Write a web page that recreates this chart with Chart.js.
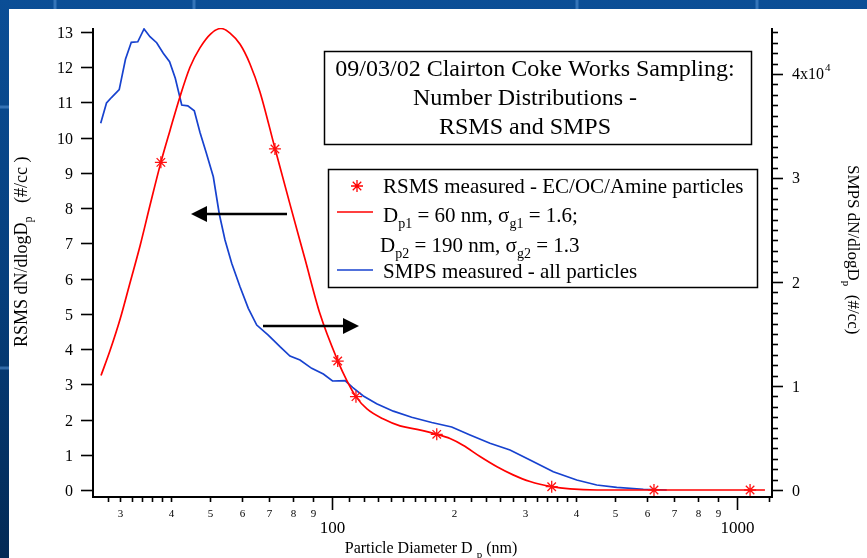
<!DOCTYPE html>
<html>
<head>
<meta charset="utf-8">
<script src="https://cdn.jsdelivr.net/npm/chart.js@4.4.1/dist/chart.umd.min.js"></script>
<style>
  html, body { margin: 0; padding: 0; background: #ffffff; overflow: hidden; }
  canvas { display: block; }
</style>
</head>
<body>
<canvas id="chart" width="867" height="558"></canvas>
<script>
// RSMS bimodal lognormal fit (left axis, #/cc)
const fitDiameter = [26.9, 28.3, 30.0, 31.7, 33.6, 35.5, 37.8, 39.8, 42.1, 44.6, 47.2, 50.2, 53.2, 56.0, 59.3, 62.7, 66.4, 72.3, 78.8, 85.8, 93.4, 103.4, 108.9, 114.6, 122.0, 133.6, 147.2, 162.2, 181.4, 195.6, 210.6, 232, 255.5, 280, 308.3, 348.7, 387, 451, 623.7, 1172];
const fitDnDlogDp = [3.25, 3.95, 4.86, 5.87, 6.94, 8.06, 9.30, 10.2, 11.15, 12.0, 12.55, 12.95, 13.1, 12.97, 12.65, 12.1, 11.3, 9.7, 8.1, 6.55, 5.0, 3.66, 3.1, 2.65, 2.3, 2.02, 1.82, 1.72, 1.58, 1.46, 1.27, 0.95, 0.66, 0.43, 0.24, 0.094, 0.03, 0, 0, 0];

// RSMS measured EC/OC/Amine particles (left axis, #/cc)
const rsmsDiameter = [37.8, 72.3, 103.3, 114.6, 181.4, 348.7, 623.7, 1077];
const rsmsDnDlogDp = [9.30, 9.68, 3.66, 2.65, 1.58, 0.094, 0, 0];

// SMPS measured, all particles (right axis, #/cc)
const smpsDiameter = [26.85, 27.75, 28.58, 29.83, 30.91, 31.95, 33.15, 34.35, 35.53, 36.91, 38.32, 39.72, 41.03, 42.56, 44.06, 45.71, 47.22, 48.86, 50.93, 52.69, 54.43, 56.54, 59.28, 62.14, 65.19, 69.6, 74.4, 78.75, 83.37, 89.1, 95.2, 100.3, 107.7, 112.4, 119.5, 128.9, 141.7, 157.3, 176.3, 197.5, 219.2, 245.5, 275.1, 308.3, 351.9, 402, 450.4, 504.7, 587.1, 670.7];
const smpsDnDlogDp = [35260, 37210, 37760, 38490, 41420, 43050, 43100, 44330, 43590, 43010, 41990, 41180, 39590, 37020, 36940, 36470, 34370, 32500, 30120, 26540, 24040, 21800, 19550, 17470, 15860, 14900, 13780, 12880, 12500, 11700, 11150, 10480, 10510, 9860, 9040, 8300, 7580, 6990, 6490, 6060, 5290, 4490, 3850, 2880, 1760, 960, 480, 260, 70, 0];

// Axis ticks
const xTickValues = [28, 30, 32, 34, 36, 38, 40, 50, 60, 70, 80, 90, 100, 110, 120, 130, 140, 150, 160, 170, 180, 190, 200, 220, 240, 260, 280, 300, 320, 340, 360, 380, 400, 500, 600, 700, 800, 900, 1000, 1200];
const xMinorLabels = { 30: '3', 40: '4', 50: '5', 60: '6', 70: '7', 80: '8', 90: '9', 200: '2', 300: '3', 400: '4', 500: '5', 600: '6', 700: '7', 800: '8', 900: '9' };
const xDecadeLabels = { 100: '100', 1000: '1000' };
const leftTicks = [0, 1, 2, 3, 4, 5, 6, 7, 8, 9, 10, 11, 12, 13];
const rightMajorTicks = [0, 10000, 20000, 30000, 40000];
const rightMajorLabels = ['0', '1', '2', '3', '4x10'];
const rightMinorStep = 1000;

const SERIF = '"Liberation Serif", "Times New Roman", Times, serif';

function toPoints(xs, ys) { return xs.map((x, i) => ({ x: x, y: ys[i] })); }

function drawRich(ctx, parts, x, y, align) {
  let w = 0;
  parts.forEach(p => { ctx.font = p.size + 'px ' + SERIF; w += ctx.measureText(p.t).width; });
  let cx = align === 'center' ? x - w / 2 : (align === 'right' ? x - w : x);
  ctx.textAlign = 'left';
  ctx.textBaseline = 'alphabetic';
  parts.forEach(p => {
    ctx.font = p.size + 'px ' + SERIF;
    ctx.fillText(p.t, cx, y + (p.dy || 0));
    cx += ctx.measureText(p.t).width;
  });
}

function drawAsterisk(ctx, x, y, r) {
  ctx.beginPath();
  for (let k = 0; k < 4; k++) {
    const a = k * Math.PI / 4;
    ctx.moveTo(x - Math.cos(a) * r, y - Math.sin(a) * r);
    ctx.lineTo(x + Math.cos(a) * r, y + Math.sin(a) * r);
  }
  ctx.stroke();
}

// Slide background with a white panel
const slideBackground = {
  id: 'slideBackground',
  beforeDraw(chart) {
    const ctx = chart.ctx;
    const W = chart.width, H = chart.height;
    ctx.save();
    const g = ctx.createLinearGradient(0, 0, 0, H);
    g.addColorStop(0, '#0b4e96');
    g.addColorStop(0.5, '#063f7d');
    g.addColorStop(1, '#032a55');
    ctx.fillStyle = g;
    ctx.fillRect(0, 0, W, H);
    ctx.strokeStyle = 'rgba(90,150,215,0.55)';
    ctx.lineWidth = 3;
    [55, 194, 577, 757].forEach(x => { ctx.beginPath(); ctx.moveTo(x, 0); ctx.lineTo(x, 9); ctx.stroke(); });
    [107, 368].forEach(y => { ctx.beginPath(); ctx.moveTo(0, y); ctx.lineTo(9, y); ctx.stroke(); });
    ctx.fillStyle = '#ffffff';
    ctx.fillRect(9, 9, W - 9, H - 9);
    ctx.restore();
  }
};

// Axes, ticks, titles, annotation boxes and arrows
const axesAndNotes = {
  id: 'axesAndNotes',
  afterDatasetsDraw(chart) {
    const ctx = chart.ctx;
    const xs = chart.scales.x, yl = chart.scales.y, yr = chart.scales.y2;
    const { left: L, right: R, top: T, bottom: B } = chart.chartArea;
    ctx.save();
    ctx.strokeStyle = '#000';
    ctx.fillStyle = '#000';

    // axis lines
    ctx.lineWidth = 2;
    ctx.beginPath();
    ctx.moveTo(L, T); ctx.lineTo(L, B); ctx.lineTo(R, B); ctx.lineTo(R, T);
    ctx.stroke();

    // left ticks
    ctx.lineWidth = 1.6;
    leftTicks.forEach(v => {
      const y = Math.round(yl.getPixelForValue(v)) + 0.5;
      ctx.beginPath(); ctx.moveTo(L - 12, y); ctx.lineTo(L, y); ctx.stroke();
      ctx.font = '16px ' + SERIF;
      ctx.textAlign = 'right';
      ctx.textBaseline = 'alphabetic';
      ctx.fillText(String(v), L - 20, y + 5.5);
    });

    // right ticks
    for (let v = 0; v <= yr.max; v += rightMinorStep) {
      const y = Math.round(yr.getPixelForValue(v)) + 0.5;
      const major = rightMajorTicks.includes(v);
      ctx.beginPath(); ctx.moveTo(R, y); ctx.lineTo(R + (major ? 11 : 6), y); ctx.stroke();
    }
    rightMajorTicks.forEach((v, i) => {
      const y = yr.getPixelForValue(v);
      ctx.font = '16px ' + SERIF;
      ctx.textAlign = 'left';
      ctx.textBaseline = 'alphabetic';
      ctx.fillText(rightMajorLabels[i], R + 20, y + 5.5);
      if (i === rightMajorTicks.length - 1) {
        const w = ctx.measureText(rightMajorLabels[i]).width;
        ctx.font = '11px ' + SERIF;
        ctx.fillText('4', R + 21 + w, y - 3);
      }
    });

    // bottom ticks
    xTickValues.forEach(v => {
      const x = Math.round(xs.getPixelForValue(v)) + 0.5;
      const decade = v in xDecadeLabels;
      ctx.beginPath(); ctx.moveTo(x, B); ctx.lineTo(x, B + (decade ? 13 : 5)); ctx.stroke();
      ctx.textAlign = 'center';
      ctx.textBaseline = 'alphabetic';
      if (decade) {
        ctx.font = '17px ' + SERIF;
        ctx.fillText(xDecadeLabels[v], x, 533);
      } else if (v in xMinorLabels) {
        ctx.font = '11px ' + SERIF;
        ctx.fillText(xMinorLabels[v], x, 517);
      }
    });

    // axis titles
    drawRich(ctx, [
      { t: 'Particle Diameter D ', size: 16 },
      { t: 'p', size: 11, dy: 5 },
      { t: ' (nm)', size: 16 }
    ], 431, 553, 'center');

    ctx.save();
    ctx.translate(27, 347);
    ctx.rotate(-Math.PI / 2);
    drawRich(ctx, [
      { t: 'RSMS dN/dlogD', size: 18 },
      { t: 'p', size: 12, dy: 5 },
      { t: '   (#/cc )', size: 18 }
    ], 0, 0, 'left');
    ctx.restore();

    ctx.save();
    ctx.translate(848, 165);
    ctx.rotate(Math.PI / 2);
    drawRich(ctx, [
      { t: 'SMPS dN/dlogD', size: 17 },
      { t: 'p', size: 11, dy: 5 },
      { t: '  (#/cc)', size: 17 }
    ], 0, 0, 'left');
    ctx.restore();

    // title box
    ctx.fillStyle = '#fff';
    ctx.fillRect(324, 51, 427, 93);
    ctx.lineWidth = 1.5;
    ctx.strokeRect(324.5, 51.5, 427, 93);
    ctx.fillStyle = '#000';
    ctx.font = '24px ' + SERIF;
    ctx.textAlign = 'center';
    ctx.textBaseline = 'alphabetic';
    ctx.fillText('09/03/02 Clairton Coke Works Sampling:', 535, 76);
    ctx.fillText('Number Distributions -', 525, 105);
    ctx.fillText('RSMS and SMPS', 525, 134);

    // legend box
    ctx.fillStyle = '#fff';
    ctx.fillRect(328, 169, 429, 118);
    ctx.strokeRect(328.5, 169.5, 429, 118);
    ctx.fillStyle = '#000';
    ctx.strokeStyle = '#ff0000';
    ctx.lineWidth = 1.3;
    drawAsterisk(ctx, 357, 186, 6);
    ctx.lineWidth = 1.7;
    ctx.beginPath(); ctx.moveTo(337, 212); ctx.lineTo(373, 212); ctx.stroke();
    ctx.strokeStyle = '#1742cf';
    ctx.beginPath(); ctx.moveTo(337, 270); ctx.lineTo(373, 270); ctx.stroke();
    drawRich(ctx, [{ t: 'RSMS measured - EC/OC/Amine particles', size: 21 }], 383, 193, 'left');
    drawRich(ctx, [
      { t: 'D', size: 21 }, { t: 'p1', size: 14, dy: 6 },
      { t: ' = 60 nm, ', size: 21 }, { t: '\u03c3', size: 21 }, { t: 'g1', size: 14, dy: 6 },
      { t: ' = 1.6;', size: 21 }
    ], 383, 222, 'left');
    drawRich(ctx, [
      { t: 'D', size: 21 }, { t: 'p2', size: 14, dy: 6 },
      { t: ' = 190 nm, ', size: 21 }, { t: '\u03c3', size: 21 }, { t: 'g2', size: 14, dy: 6 },
      { t: ' = 1.3', size: 21 }
    ], 380, 252, 'left');
    drawRich(ctx, [{ t: 'SMPS measured - all particles', size: 21 }], 383, 278, 'left');

    // arrows pointing to each series' axis
    ctx.strokeStyle = '#000';
    ctx.fillStyle = '#000';
    ctx.lineWidth = 2.5;
    ctx.beginPath(); ctx.moveTo(287, 214); ctx.lineTo(204, 214); ctx.stroke();
    ctx.beginPath(); ctx.moveTo(191, 214); ctx.lineTo(207, 206); ctx.lineTo(207, 222); ctx.closePath(); ctx.fill();
    ctx.beginPath(); ctx.moveTo(263, 326); ctx.lineTo(346, 326); ctx.stroke();
    ctx.beginPath(); ctx.moveTo(359, 326); ctx.lineTo(343, 318); ctx.lineTo(343, 334); ctx.closePath(); ctx.fill();

    ctx.restore();
  }
};

new Chart(document.getElementById('chart'), {
  type: 'line',
  data: {
    datasets: [
      {
        label: 'RSMS measured - EC/OC/Amine particles',
        data: toPoints(rsmsDiameter, rsmsDnDlogDp),
        yAxisID: 'y',
        showLine: false,
        pointStyle: 'star',
        pointRadius: 6,
        pointBorderWidth: 1.3,
        pointBorderColor: '#ff1010',
        pointBackgroundColor: '#ff1010',
        borderColor: '#ff1010'
      },
      {
        label: 'Lognormal fit',
        data: toPoints(fitDiameter, fitDnDlogDp),
        yAxisID: 'y',
        borderColor: '#ff0000',
        borderWidth: 1.7,
        pointRadius: 0,
        cubicInterpolationMode: 'monotone',
        fill: false
      },
      {
        label: 'SMPS measured - all particles',
        data: toPoints(smpsDiameter, smpsDnDlogDp),
        yAxisID: 'y2',
        borderColor: '#1742cf',
        borderWidth: 1.7,
        pointRadius: 0,
        tension: 0,
        fill: false
      }
    ]
  },
  options: {
    responsive: false,
    animation: false,
    devicePixelRatio: 1,
    events: [],
    layout: { padding: { left: 93, right: 95, top: 28, bottom: 61 } },
    plugins: { legend: { display: false }, tooltip: { enabled: false }, title: { display: false } },
    scales: {
      x: { type: 'logarithmic', min: 25.70, max: 1220, display: false },
      y: { type: 'linear', position: 'left', min: -0.1987, max: 13.1135, display: false },
      y2: { type: 'linear', position: 'right', min: -673, max: 44423, display: false }
    }
  },
  plugins: [slideBackground, axesAndNotes]
});
</script>
</body>
</html>
